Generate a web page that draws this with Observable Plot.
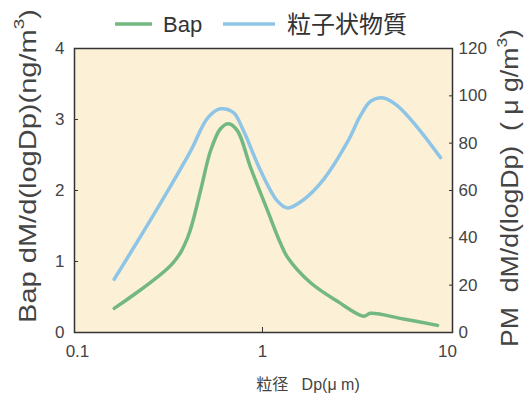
<!DOCTYPE html>
<html><head><meta charset="utf-8">
<script src="https://cdn.jsdelivr.net/npm/d3@7"></script>
<script src="https://cdn.jsdelivr.net/npm/@observablehq/plot@0.6"></script>
<style>
body{margin:0;background:#fff;}
#wrap{position:relative;width:526px;height:394px;}
</style></head><body><div id="wrap"></div>
<script>
// Particle diameter Dp (μm) and values
const dpBap = [0.158, 0.326, 0.393, 0.462, 0.524, 0.593, 0.655, 0.733, 0.861, 1.064, 1.25, 1.365, 1.82, 2.54, 3.52, 3.84, 5.78, 8.83];
const bap   = [0.34, 0.97, 1.33, 1.99, 2.56, 2.87, 2.94, 2.84, 2.33, 1.72, 1.26, 1.06, 0.70, 0.44, 0.23, 0.27, 0.19, 0.10];
const dpPM  = [0.158, 0.227, 0.306, 0.408, 0.505, 0.593, 0.697, 0.789, 0.975, 1.205, 1.365, 1.667, 2.14, 2.88, 3.39, 3.84, 4.51, 5.37, 6.89, 9.17];
const pm    = [22.5, 42.5, 59.5, 76.5, 90.6, 94.5, 92.9, 85.3, 68.5, 55.5, 52.6, 56.1, 64.7, 80.5, 91.7, 97.7, 99.1, 95.8, 86.6, 73.9];
const leftTicks  = [0, 1, 2, 3, 4];
const rightTicks = [0, 20, 40, 60, 80, 100, 120];
const xTicks     = [0.1, 1, 10];
const seriesNames = ["Bap", "粒子状物質"];
const seriesColors = ["#72b880", "#8ec5e6"];
const leftLabel  = ["Bap dM/d(logDp)(ng/m", "3", ")"];
const rightLabel = ["PM\u00a0\u00a0dM/d(logDp)\u00a0\u00a0(\u00a0μ\u00a0g/m", "3", ")"];
const xLabel = "粒径\u00a0\u00a0\u00a0Dp(μ m)";

const ratio = 30; // right axis (0-120) onto left axis (0-4)
const bapData = dpBap.map((d, i) => ({dp: d, v: bap[i]}));
const pmData  = dpPM.map((d, i) => ({dp: d, v: pm[i] / ratio}));

const font = "'Liberation Sans', Arial, 'Noto Sans CJK JP', sans-serif";
const chart = Plot.plot({
  width: 526, height: 394,
  marginLeft: 74, marginRight: 74, marginTop: 48, marginBottom: 62,
  x: {type: "log", domain: [0.0964, 10.64]},
  y: {domain: [0, 4]},
  style: {fontFamily: font, fontSize: "17px", color: "#444", background: "transparent"},
  marks: [
    Plot.frame({fill: "#fcf0d7", stroke: null}),
    Plot.line(pmData, {x: "dp", y: "v", stroke: seriesColors[1], strokeWidth: 3.5, curve: "catmull-rom"}),
    Plot.line(bapData, {x: "dp", y: "v", stroke: seriesColors[0], strokeWidth: 3.5, curve: "catmull-rom"}),
    Plot.frame({stroke: "#333", strokeWidth: 1.5}),
    Plot.axisY({anchor: "left", ticks: leftTicks, tickSize: -4, tickPadding: 14, label: null, stroke: "#333", tickFormat: d => String(d)}),
    Plot.axisY({anchor: "right", ticks: rightTicks.map(v => v / ratio), tickSize: -4, tickPadding: 10, label: null, stroke: "#333", tickFormat: d => String(Math.round(d * ratio))}),
    Plot.axisX({anchor: "bottom", ticks: xTicks, tickSize: 0, tickPadding: 12, label: null, tickFormat: d => String(d)}),
    Plot.axisX({anchor: "bottom", ticks: [1], tickSize: -5, label: null, stroke: "#333", tickFormat: () => ""})
  ]
});
document.getElementById("wrap").appendChild(chart);

const svg = d3.select(chart);
// Legend
const lg = svg.append("g").attr("font-family", font).attr("fill", "#333").attr("text-anchor", "start");
lg.append("line").attr("x1", 115).attr("x2", 152).attr("y1", 24).attr("y2", 24).attr("stroke", seriesColors[0]).attr("stroke-width", 3.5);
lg.append("text").attr("x", 163).attr("y", 32).attr("font-size", 22).text(seriesNames[0]);
lg.append("line").attr("x1", 223).attr("x2", 275).attr("y1", 24).attr("y2", 24).attr("stroke", seriesColors[1]).attr("stroke-width", 3.5);
lg.append("text").attr("x", 287).attr("y", 33).attr("font-size", 24).attr("font-family", "'Noto Sans CJK JP', sans-serif").text(seriesNames[1]);

function vlabel(parts, cx, cy, len) {
  const t = svg.append("text").attr("font-family", font).attr("font-size", 23).attr("fill", "#444")
    .attr("text-anchor", "middle").attr("dominant-baseline", "central");
  t.append("tspan").text(parts[0]);
  t.append("tspan").attr("font-size", 15).attr("dy", -9).text(parts[1]);
  t.append("tspan").attr("dy", 9).text(parts[2]);
  const w = t.node().getBBox().width;
  t.attr("transform", `translate(${cx},${cy}) rotate(-90) scale(${len / w},1)`);
}
vlabel(leftLabel, 28, 166, 314);
vlabel(rightLabel, 510, 188, 318);

svg.append("text").attr("x", 308).attr("y", 390).attr("text-anchor", "middle")
  .attr("font-family", font).attr("font-size", 16).attr("fill", "#444").text(xLabel);
</script>
</body></html>
